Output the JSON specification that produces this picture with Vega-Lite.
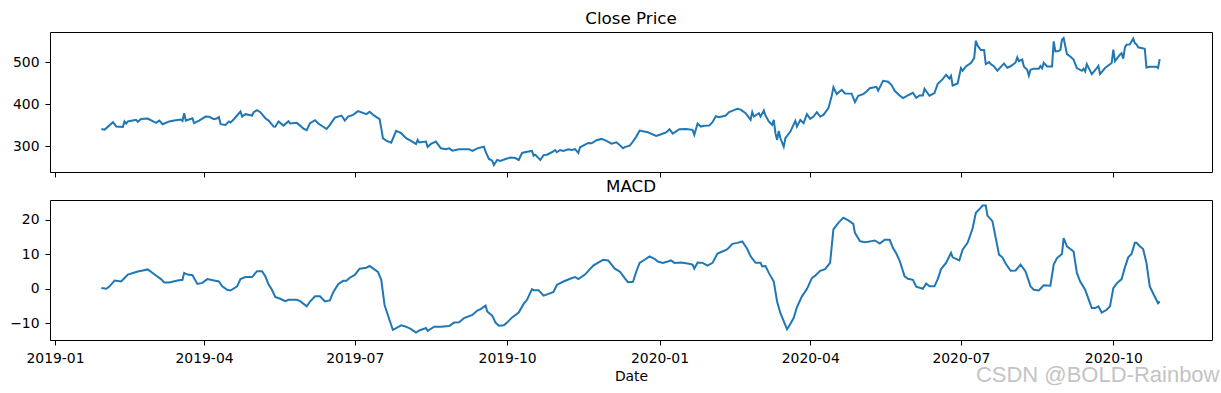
{
  "$schema": "https://vega.github.io/schema/vega-lite/v6.json",
  "background": "white",
  "padding": {"left": 9, "top": 10, "right": 2, "bottom": 5},
  "config": {
    "font": "DejaVu Sans",
    "view": {"stroke": "black", "strokeWidth": 1},
    "axis": {"domain": false, "grid": false, "tickColor": "black", "tickSize": 5, "tickWidth": 1, "labelColor": "black", "labelFont": "DejaVu Sans", "labelFontSize": 13.9, "labelPadding": 6, "titleFont": "DejaVu Sans", "titleFontSize": 13.9, "titleFontWeight": "normal", "titleColor": "black"},
    "title": {"font": "DejaVu Sans", "fontSize": 16.7, "fontWeight": "normal", "color": "black"}
  },
  "title": {"text": "CSDN @BOLD-Rainbow", "orient": "bottom", "anchor": "end", "font": "Liberation Sans", "fontSize": 22, "fontWeight": "normal", "color": "#c4c4c4", "offset": -19.5, "dx": 7},
  "datasets": {
    "close": [
      {"Date":"2019-01-29","Close":341},{"Date":"2019-01-31","Close":339.5},{"Date":"2019-02-05","Close":357},{"Date":"2019-02-07","Close":347},{"Date":"2019-02-11","Close":346},{"Date":"2019-02-12","Close":359},{"Date":"2019-02-13","Close":354},{"Date":"2019-02-14","Close":359},{"Date":"2019-02-19","Close":362.6},{"Date":"2019-02-20","Close":358},{"Date":"2019-02-22","Close":365},{"Date":"2019-02-26","Close":365.7},
      {"Date":"2019-03-03","Close":355.5},{"Date":"2019-03-05","Close":361},{"Date":"2019-03-07","Close":352.4},{"Date":"2019-03-11","Close":359},{"Date":"2019-03-14","Close":361},{"Date":"2019-03-18","Close":363.4},{"Date":"2019-03-19","Close":360},{"Date":"2019-03-20","Close":378.6},{"Date":"2019-03-21","Close":361},{"Date":"2019-03-25","Close":366.6},{"Date":"2019-03-26","Close":354.8},{"Date":"2019-03-29","Close":361},
      {"Date":"2019-04-02","Close":370.5},{"Date":"2019-04-04","Close":370},{"Date":"2019-04-07","Close":364.2},{"Date":"2019-04-09","Close":366.6},{"Date":"2019-04-10","Close":369},{"Date":"2019-04-11","Close":352.4},{"Date":"2019-04-14","Close":350.7},{"Date":"2019-04-16","Close":359},{"Date":"2019-04-17","Close":356.6},{"Date":"2019-04-19","Close":364.2},{"Date":"2019-04-23","Close":382.4},{"Date":"2019-04-24","Close":370.5},{"Date":"2019-04-26","Close":376.2},{"Date":"2019-04-30","Close":372.9},
      {"Date":"2019-05-01","Close":381},{"Date":"2019-05-03","Close":385.7},{"Date":"2019-05-05","Close":381},{"Date":"2019-05-08","Close":366.6},{"Date":"2019-05-10","Close":361},{"Date":"2019-05-13","Close":346.7},{"Date":"2019-05-14","Close":346.4},{"Date":"2019-05-16","Close":359},{"Date":"2019-05-19","Close":349},{"Date":"2019-05-22","Close":359.5},{"Date":"2019-05-23","Close":354},{"Date":"2019-05-27","Close":355.5},{"Date":"2019-05-29","Close":349},{"Date":"2019-05-31","Close":342},
      {"Date":"2019-06-02","Close":338},{"Date":"2019-06-04","Close":354.8},{"Date":"2019-06-07","Close":362},{"Date":"2019-06-09","Close":354},{"Date":"2019-06-14","Close":341},{"Date":"2019-06-16","Close":350.7},{"Date":"2019-06-19","Close":368},{"Date":"2019-06-23","Close":372.9},{"Date":"2019-06-25","Close":361},{"Date":"2019-06-27","Close":370.5},{"Date":"2019-06-30","Close":374.5},
      {"Date":"2019-07-03","Close":383.3},{"Date":"2019-07-08","Close":376.2},{"Date":"2019-07-10","Close":381.7},{"Date":"2019-07-13","Close":372},{"Date":"2019-07-16","Close":364.2},{"Date":"2019-07-17","Close":342.9},{"Date":"2019-07-18","Close":319},{"Date":"2019-07-20","Close":313.3},{"Date":"2019-07-23","Close":308.6},{"Date":"2019-07-26","Close":336.4},{"Date":"2019-07-29","Close":331},
      {"Date":"2019-08-01","Close":319},{"Date":"2019-08-04","Close":312.6},{"Date":"2019-08-07","Close":305.5},{"Date":"2019-08-08","Close":315},{"Date":"2019-08-09","Close":309},{"Date":"2019-08-13","Close":311},{"Date":"2019-08-14","Close":298.3},{"Date":"2019-08-16","Close":305.5},{"Date":"2019-08-19","Close":311},{"Date":"2019-08-22","Close":295.2},{"Date":"2019-08-25","Close":292.9},{"Date":"2019-08-27","Close":295},{"Date":"2019-08-29","Close":289.6},
      {"Date":"2019-09-02","Close":292.9},{"Date":"2019-09-05","Close":293},{"Date":"2019-09-08","Close":293},{"Date":"2019-09-10","Close":288.8},{"Date":"2019-09-13","Close":295},{"Date":"2019-09-17","Close":299},{"Date":"2019-09-18","Close":287},{"Date":"2019-09-20","Close":269.8},{"Date":"2019-09-22","Close":265.7},{"Date":"2019-09-23","Close":255.5},{"Date":"2019-09-25","Close":267.4},{"Date":"2019-09-27","Close":265},{"Date":"2019-09-30","Close":269.8},
      {"Date":"2019-10-03","Close":273},{"Date":"2019-10-06","Close":272},{"Date":"2019-10-08","Close":267.4},{"Date":"2019-10-10","Close":284},{"Date":"2019-10-13","Close":287},{"Date":"2019-10-16","Close":288.8},{"Date":"2019-10-17","Close":277.6},{"Date":"2019-10-18","Close":280},{"Date":"2019-10-21","Close":267.4},{"Date":"2019-10-23","Close":279},{"Date":"2019-10-25","Close":280},{"Date":"2019-10-28","Close":285.7},{"Date":"2019-10-30","Close":291},{"Date":"2019-10-31","Close":285.7},
      {"Date":"2019-11-02","Close":291},{"Date":"2019-11-04","Close":288.8},{"Date":"2019-11-07","Close":292.9},{"Date":"2019-11-09","Close":291},{"Date":"2019-11-11","Close":293},{"Date":"2019-11-13","Close":284},{"Date":"2019-11-14","Close":297.6},{"Date":"2019-11-19","Close":307.9},{"Date":"2019-11-21","Close":307},{"Date":"2019-11-24","Close":314.3},{"Date":"2019-11-27","Close":317.4},{"Date":"2019-11-30","Close":312.6},
      {"Date":"2019-12-03","Close":306.2},{"Date":"2019-12-06","Close":309.5},{"Date":"2019-12-07","Close":306.2},{"Date":"2019-12-10","Close":295.2},{"Date":"2019-12-11","Close":298},{"Date":"2019-12-14","Close":301.4},{"Date":"2019-12-15","Close":306},{"Date":"2019-12-18","Close":322.9},{"Date":"2019-12-20","Close":337.1},{"Date":"2019-12-25","Close":333.3},{"Date":"2019-12-30","Close":324.5},
      {"Date":"2020-01-02","Close":328.6},{"Date":"2020-01-05","Close":333},{"Date":"2020-01-07","Close":340.5},{"Date":"2020-01-09","Close":330},{"Date":"2020-01-13","Close":340.5},{"Date":"2020-01-17","Close":341.2},{"Date":"2020-01-21","Close":339},{"Date":"2020-01-22","Close":327},{"Date":"2020-01-24","Close":354},{"Date":"2020-01-26","Close":346.7},{"Date":"2020-01-28","Close":348.6},{"Date":"2020-01-31","Close":349},
      {"Date":"2020-02-02","Close":357.1},{"Date":"2020-02-04","Close":371.4},{"Date":"2020-02-06","Close":369},{"Date":"2020-02-10","Close":373},{"Date":"2020-02-12","Close":381},{"Date":"2020-02-15","Close":385.7},{"Date":"2020-02-17","Close":388.8},{"Date":"2020-02-19","Close":387},{"Date":"2020-02-22","Close":378.6},{"Date":"2020-02-25","Close":362.6},{"Date":"2020-02-26","Close":381},{"Date":"2020-02-27","Close":370.5},
      {"Date":"2020-03-01","Close":378.6},{"Date":"2020-03-02","Close":370.5},{"Date":"2020-03-04","Close":384.8},{"Date":"2020-03-05","Close":373},{"Date":"2020-03-07","Close":359},{"Date":"2020-03-09","Close":350.7},{"Date":"2020-03-10","Close":362.6},{"Date":"2020-03-11","Close":331},{"Date":"2020-03-12","Close":315},{"Date":"2020-03-13","Close":336.4},{"Date":"2020-03-14","Close":319},{"Date":"2020-03-16","Close":299},{"Date":"2020-03-17","Close":319},{"Date":"2020-03-20","Close":334.8},{"Date":"2020-03-23","Close":360.2},{"Date":"2020-03-24","Close":346.7},{"Date":"2020-03-26","Close":362.6},{"Date":"2020-03-28","Close":354.8},{"Date":"2020-03-30","Close":376.2},
      {"Date":"2020-04-01","Close":365},{"Date":"2020-04-03","Close":370.5},{"Date":"2020-04-05","Close":381},{"Date":"2020-04-07","Close":370.5},{"Date":"2020-04-09","Close":374.5},{"Date":"2020-04-12","Close":390.5},{"Date":"2020-04-14","Close":419.8},{"Date":"2020-04-15","Close":440.5},{"Date":"2020-04-17","Close":423.8},{"Date":"2020-04-20","Close":434},{"Date":"2020-04-22","Close":425.2},{"Date":"2020-04-26","Close":425},{"Date":"2020-04-28","Close":404.8},{"Date":"2020-04-30","Close":419.8},
      {"Date":"2020-05-03","Close":423.8},{"Date":"2020-05-05","Close":430},{"Date":"2020-05-07","Close":438},{"Date":"2020-05-11","Close":441.2},{"Date":"2020-05-12","Close":432},{"Date":"2020-05-15","Close":455.5},{"Date":"2020-05-18","Close":453.3},{"Date":"2020-05-20","Close":446},{"Date":"2020-05-22","Close":431.7},{"Date":"2020-05-25","Close":420.5},{"Date":"2020-05-27","Close":414.3},{"Date":"2020-05-30","Close":421},
      {"Date":"2020-06-02","Close":427},{"Date":"2020-06-04","Close":415},{"Date":"2020-06-06","Close":420.5},{"Date":"2020-06-08","Close":420.5},{"Date":"2020-06-09","Close":436.4},{"Date":"2020-06-12","Close":420},{"Date":"2020-06-15","Close":426.2},{"Date":"2020-06-17","Close":448.3},{"Date":"2020-06-20","Close":459.5},{"Date":"2020-06-22","Close":469.8},{"Date":"2020-06-24","Close":461},{"Date":"2020-06-25","Close":467.4},{"Date":"2020-06-26","Close":444.3},{"Date":"2020-06-29","Close":449},
      {"Date":"2020-07-01","Close":485.7},{"Date":"2020-07-02","Close":479.3},{"Date":"2020-07-04","Close":489.6},{"Date":"2020-07-07","Close":497.6},{"Date":"2020-07-09","Close":509.5},{"Date":"2020-07-10","Close":550.7},{"Date":"2020-07-11","Close":539.5},{"Date":"2020-07-13","Close":528.6},{"Date":"2020-07-15","Close":528.6},{"Date":"2020-07-16","Close":495.2},{"Date":"2020-07-18","Close":500},{"Date":"2020-07-19","Close":495.2},{"Date":"2020-07-21","Close":489.6},{"Date":"2020-07-23","Close":479.3},{"Date":"2020-07-24","Close":484},{"Date":"2020-07-27","Close":496.7},{"Date":"2020-07-29","Close":486.5},{"Date":"2020-07-31","Close":490},
      {"Date":"2020-08-03","Close":499},{"Date":"2020-08-04","Close":511},{"Date":"2020-08-05","Close":502},{"Date":"2020-08-07","Close":506},{"Date":"2020-08-08","Close":489.6},{"Date":"2020-08-10","Close":481.7},{"Date":"2020-08-11","Close":468},{"Date":"2020-08-12","Close":481.7},{"Date":"2020-08-14","Close":484.3},{"Date":"2020-08-17","Close":484.3},{"Date":"2020-08-18","Close":490.5},{"Date":"2020-08-19","Close":485},{"Date":"2020-08-20","Close":498.3},{"Date":"2020-08-22","Close":489.6},{"Date":"2020-08-25","Close":489.6},{"Date":"2020-08-26","Close":549},{"Date":"2020-08-27","Close":525.2},{"Date":"2020-08-29","Close":526},{"Date":"2020-08-30","Close":528.6},{"Date":"2020-08-31","Close":553},
      {"Date":"2020-09-01","Close":557},{"Date":"2020-09-03","Close":519},{"Date":"2020-09-05","Close":513.3},{"Date":"2020-09-07","Close":506},{"Date":"2020-09-09","Close":485.7},{"Date":"2020-09-12","Close":479.3},{"Date":"2020-09-13","Close":484},{"Date":"2020-09-14","Close":477.6},{"Date":"2020-09-15","Close":495},{"Date":"2020-09-18","Close":471.4},{"Date":"2020-09-21","Close":485.7},{"Date":"2020-09-22","Close":491},{"Date":"2020-09-23","Close":471.4},{"Date":"2020-09-26","Close":485.7},{"Date":"2020-09-30","Close":497.6},
      {"Date":"2020-10-01","Close":529.3},{"Date":"2020-10-02","Close":502},{"Date":"2020-10-05","Close":517.4},{"Date":"2020-10-06","Close":521},{"Date":"2020-10-07","Close":508},{"Date":"2020-10-08","Close":534.8},{"Date":"2020-10-09","Close":541.2},{"Date":"2020-10-11","Close":542},{"Date":"2020-10-13","Close":555.5},{"Date":"2020-10-14","Close":545},{"Date":"2020-10-15","Close":542},{"Date":"2020-10-16","Close":535},{"Date":"2020-10-20","Close":531.7},{"Date":"2020-10-21","Close":487},{"Date":"2020-10-23","Close":489},{"Date":"2020-10-27","Close":489},{"Date":"2020-10-28","Close":486},{"Date":"2020-10-29","Close":507}
    ],
    "macd": [
      {"Date":"2019-01-29","MACD":0.2},{"Date":"2019-02-01","MACD":0},{"Date":"2019-02-03","MACD":0.7},{"Date":"2019-02-06","MACD":2.4},{"Date":"2019-02-10","MACD":2.1},{"Date":"2019-02-12","MACD":3.1},{"Date":"2019-02-14","MACD":4.1},{"Date":"2019-02-20","MACD":5.0},{"Date":"2019-02-23","MACD":5.3},{"Date":"2019-02-26","MACD":5.6},
      {"Date":"2019-03-02","MACD":4.2},{"Date":"2019-03-06","MACD":2.8},{"Date":"2019-03-08","MACD":1.8},{"Date":"2019-03-11","MACD":1.8},{"Date":"2019-03-16","MACD":2.4},{"Date":"2019-03-19","MACD":2.6},{"Date":"2019-03-20","MACD":4.6},{"Date":"2019-03-22","MACD":4.1},{"Date":"2019-03-25","MACD":3.9},{"Date":"2019-03-28","MACD":1.4},{"Date":"2019-03-31","MACD":1.7},
      {"Date":"2019-04-03","MACD":2.8},{"Date":"2019-04-07","MACD":2.4},{"Date":"2019-04-10","MACD":2.1},{"Date":"2019-04-12","MACD":0.7},{"Date":"2019-04-15","MACD":-0.3},{"Date":"2019-04-17","MACD":-0.5},{"Date":"2019-04-21","MACD":0.7},{"Date":"2019-04-23","MACD":2.8},{"Date":"2019-04-26","MACD":3.4},{"Date":"2019-04-30","MACD":3.4},
      {"Date":"2019-05-03","MACD":5.1},{"Date":"2019-05-06","MACD":5.1},{"Date":"2019-05-08","MACD":3.6},{"Date":"2019-05-10","MACD":1.2},{"Date":"2019-05-12","MACD":-0.3},{"Date":"2019-05-14","MACD":-2.4},{"Date":"2019-05-17","MACD":-2.9},{"Date":"2019-05-20","MACD":-3.6},{"Date":"2019-05-22","MACD":-3.2},{"Date":"2019-05-27","MACD":-3.2},{"Date":"2019-05-29","MACD":-3.6},
      {"Date":"2019-06-02","MACD":-5.1},{"Date":"2019-06-04","MACD":-3.7},{"Date":"2019-06-07","MACD":-2.2},{"Date":"2019-06-10","MACD":-2.2},{"Date":"2019-06-13","MACD":-3.7},{"Date":"2019-06-16","MACD":-3.4},{"Date":"2019-06-18","MACD":-1.0},{"Date":"2019-06-21","MACD":1.3},{"Date":"2019-06-24","MACD":2.3},{"Date":"2019-06-26","MACD":2.3},{"Date":"2019-06-28","MACD":3.2},
      {"Date":"2019-07-01","MACD":4.0},{"Date":"2019-07-04","MACD":5.8},{"Date":"2019-07-08","MACD":6.1},{"Date":"2019-07-10","MACD":6.6},{"Date":"2019-07-12","MACD":5.9},{"Date":"2019-07-15","MACD":4.9},{"Date":"2019-07-17","MACD":2.6},{"Date":"2019-07-19","MACD":-4.7},{"Date":"2019-07-21","MACD":-7.6},{"Date":"2019-07-23","MACD":-10.5},{"Date":"2019-07-24","MACD":-11.9},{"Date":"2019-07-26","MACD":-11.4},{"Date":"2019-07-29","MACD":-10.6},
      {"Date":"2019-08-01","MACD":-11.0},{"Date":"2019-08-04","MACD":-11.7},{"Date":"2019-08-07","MACD":-12.7},{"Date":"2019-08-09","MACD":-12.1},{"Date":"2019-08-13","MACD":-11.4},{"Date":"2019-08-14","MACD":-12.2},{"Date":"2019-08-18","MACD":-11.0},{"Date":"2019-08-22","MACD":-11.0},{"Date":"2019-08-27","MACD":-10.8},{"Date":"2019-08-30","MACD":-9.8},
      {"Date":"2019-09-02","MACD":-9.7},{"Date":"2019-09-05","MACD":-8.5},{"Date":"2019-09-10","MACD":-7.6},{"Date":"2019-09-13","MACD":-6.3},{"Date":"2019-09-15","MACD":-5.9},{"Date":"2019-09-18","MACD":-4.9},{"Date":"2019-09-19","MACD":-6.6},{"Date":"2019-09-22","MACD":-7.8},{"Date":"2019-09-24","MACD":-9.8},{"Date":"2019-09-26","MACD":-10.7},{"Date":"2019-09-29","MACD":-10.6},
      {"Date":"2019-10-01","MACD":-9.8},{"Date":"2019-10-04","MACD":-8.3},{"Date":"2019-10-08","MACD":-6.9},{"Date":"2019-10-11","MACD":-4.4},{"Date":"2019-10-13","MACD":-3.2},{"Date":"2019-10-16","MACD":-0.1},{"Date":"2019-10-17","MACD":-0.4},{"Date":"2019-10-20","MACD":-0.4},{"Date":"2019-10-23","MACD":-2.0},{"Date":"2019-10-26","MACD":-1.5},{"Date":"2019-10-29","MACD":-0.9},{"Date":"2019-10-31","MACD":1.1},
      {"Date":"2019-11-04","MACD":2.1},{"Date":"2019-11-08","MACD":2.9},{"Date":"2019-11-11","MACD":3.4},{"Date":"2019-11-13","MACD":2.8},{"Date":"2019-11-17","MACD":4.1},{"Date":"2019-11-22","MACD":6.7},{"Date":"2019-11-25","MACD":7.6},{"Date":"2019-11-28","MACD":8.4},
      {"Date":"2019-12-01","MACD":8.2},{"Date":"2019-12-05","MACD":5.8},{"Date":"2019-12-08","MACD":5.0},{"Date":"2019-12-11","MACD":3.1},{"Date":"2019-12-13","MACD":1.9},{"Date":"2019-12-16","MACD":2.0},{"Date":"2019-12-18","MACD":5.0},{"Date":"2019-12-20","MACD":7.5},{"Date":"2019-12-23","MACD":8.4},{"Date":"2019-12-26","MACD":9.4},{"Date":"2019-12-29","MACD":8.7},{"Date":"2019-12-31","MACD":7.9},
      {"Date":"2020-01-03","MACD":7.5},{"Date":"2020-01-06","MACD":7.9},{"Date":"2020-01-08","MACD":8.2},{"Date":"2020-01-10","MACD":7.5},{"Date":"2020-01-14","MACD":7.6},{"Date":"2020-01-18","MACD":7.3},{"Date":"2020-01-21","MACD":7.0},{"Date":"2020-01-22","MACD":5.8},{"Date":"2020-01-24","MACD":7.6},{"Date":"2020-01-27","MACD":7.5},{"Date":"2020-01-30","MACD":6.7},
      {"Date":"2020-02-02","MACD":7.5},{"Date":"2020-02-05","MACD":10.2},{"Date":"2020-02-09","MACD":11.0},{"Date":"2020-02-11","MACD":11.5},{"Date":"2020-02-14","MACD":13.0},{"Date":"2020-02-17","MACD":13.3},{"Date":"2020-02-20","MACD":13.7},{"Date":"2020-02-23","MACD":11.5},{"Date":"2020-02-25","MACD":9.4},{"Date":"2020-02-28","MACD":7.5},
      {"Date":"2020-03-02","MACD":7.5},{"Date":"2020-03-03","MACD":6.5},{"Date":"2020-03-05","MACD":6.6},{"Date":"2020-03-07","MACD":4.6},{"Date":"2020-03-10","MACD":2.1},{"Date":"2020-03-12","MACD":-3.7},{"Date":"2020-03-14","MACD":-7.1},{"Date":"2020-03-18","MACD":-11.7},{"Date":"2020-03-19","MACD":-11.0},{"Date":"2020-03-22","MACD":-8.5},{"Date":"2020-03-24","MACD":-5.3},{"Date":"2020-03-27","MACD":-2.2},{"Date":"2020-03-30","MACD":-0.1},
      {"Date":"2020-04-02","MACD":3.1},{"Date":"2020-04-04","MACD":3.8},{"Date":"2020-04-07","MACD":5.2},{"Date":"2020-04-10","MACD":5.7},{"Date":"2020-04-13","MACD":7.5},{"Date":"2020-04-15","MACD":17.2},{"Date":"2020-04-18","MACD":19.1},{"Date":"2020-04-21","MACD":20.6},{"Date":"2020-04-24","MACD":19.8},{"Date":"2020-04-27","MACD":18.8},{"Date":"2020-04-28","MACD":16.2},
      {"Date":"2020-05-01","MACD":13.8},{"Date":"2020-05-04","MACD":13.5},{"Date":"2020-05-06","MACD":13.6},{"Date":"2020-05-08","MACD":13.8},{"Date":"2020-05-10","MACD":14.0},{"Date":"2020-05-13","MACD":13.1},{"Date":"2020-05-16","MACD":14.2},{"Date":"2020-05-19","MACD":14.2},{"Date":"2020-05-21","MACD":11.8},{"Date":"2020-05-23","MACD":10.2},{"Date":"2020-05-25","MACD":8.1},{"Date":"2020-05-28","MACD":3.6},{"Date":"2020-05-30","MACD":2.9},
      {"Date":"2020-06-02","MACD":2.6},{"Date":"2020-06-04","MACD":0.6},{"Date":"2020-06-08","MACD":0},{"Date":"2020-06-10","MACD":1.5},{"Date":"2020-06-12","MACD":0.7},{"Date":"2020-06-15","MACD":0.7},{"Date":"2020-06-17","MACD":2.8},{"Date":"2020-06-19","MACD":5.7},{"Date":"2020-06-22","MACD":7.5},{"Date":"2020-06-25","MACD":10.4},{"Date":"2020-06-26","MACD":9.1},{"Date":"2020-06-30","MACD":8.2},
      {"Date":"2020-07-02","MACD":11.3},{"Date":"2020-07-05","MACD":13.3},{"Date":"2020-07-08","MACD":17.4},{"Date":"2020-07-10","MACD":22.0},{"Date":"2020-07-13","MACD":23.5},{"Date":"2020-07-14","MACD":24.1},{"Date":"2020-07-16","MACD":24.1},{"Date":"2020-07-17","MACD":21.2},{"Date":"2020-07-20","MACD":19.6},{"Date":"2020-07-24","MACD":9.9},{"Date":"2020-07-26","MACD":9.1},{"Date":"2020-07-28","MACD":7.3},{"Date":"2020-07-31","MACD":5.2},
      {"Date":"2020-08-03","MACD":5.3},{"Date":"2020-08-06","MACD":7.0},{"Date":"2020-08-09","MACD":5.0},{"Date":"2020-08-12","MACD":0.7},{"Date":"2020-08-14","MACD":-0.3},{"Date":"2020-08-17","MACD":-0.5},{"Date":"2020-08-20","MACD":1.0},{"Date":"2020-08-24","MACD":0.9},{"Date":"2020-08-26","MACD":7.0},{"Date":"2020-08-28","MACD":8.9},{"Date":"2020-08-31","MACD":10.1},
      {"Date":"2020-09-01","MACD":14.7},{"Date":"2020-09-03","MACD":12.3},{"Date":"2020-09-07","MACD":10.8},{"Date":"2020-09-09","MACD":4.6},{"Date":"2020-09-11","MACD":2.1},{"Date":"2020-09-14","MACD":-0.3},{"Date":"2020-09-18","MACD":-5.6},{"Date":"2020-09-20","MACD":-5.6},{"Date":"2020-09-22","MACD":-5.1},{"Date":"2020-09-24","MACD":-6.9},{"Date":"2020-09-27","MACD":-6.1},{"Date":"2020-09-29","MACD":-5.1},
      {"Date":"2020-10-01","MACD":0.2},{"Date":"2020-10-03","MACD":1.5},{"Date":"2020-10-06","MACD":2.8},{"Date":"2020-10-08","MACD":6.2},{"Date":"2020-10-10","MACD":9.1},{"Date":"2020-10-12","MACD":10.1},{"Date":"2020-10-14","MACD":13.3},{"Date":"2020-10-15","MACD":13.3},{"Date":"2020-10-17","MACD":12.3},{"Date":"2020-10-19","MACD":11.5},{"Date":"2020-10-21","MACD":7.5},{"Date":"2020-10-23","MACD":0.7},{"Date":"2020-10-25","MACD":-1.3},{"Date":"2020-10-28","MACD":-4.2},{"Date":"2020-10-29","MACD":-3.7}
    ]
  },
  "bounds": "flush",
  "spacing": 28,
  "vconcat": [
    {
      "width": 1162,
      "height": 140,
      "title": {"text": "Close Price", "offset": -12.2, "baseline": "bottom"},
      "data": {"name": "close"},
      "mark": {"type": "line", "color": "#1f77b4", "strokeWidth": 2},
      "encoding": {
        "x": {"field": "Date", "type": "temporal",
          "scale": {"type": "utc", "domain": [{"year": 2018, "month": 12, "date": 29, "utc": true}, {"year": 2020, "month": 11, "date": 29, "hours": 14, "utc": true}]},
          "axis": {"title": null, "labels": false, "values": [{"year": 2019, "month": 1, "date": 1, "utc": true}, {"year": 2019, "month": 4, "date": 1, "utc": true}, {"year": 2019, "month": 7, "date": 1, "utc": true}, {"year": 2019, "month": 10, "date": 1, "utc": true}, {"year": 2020, "month": 1, "date": 1, "utc": true}, {"year": 2020, "month": 4, "date": 1, "utc": true}, {"year": 2020, "month": 7, "date": 1, "utc": true}, {"year": 2020, "month": 10, "date": 1, "utc": true}]}},
        "y": {"field": "Close", "type": "quantitative",
          "scale": {"domain": [238.8, 571.4], "nice": false, "zero": false},
          "axis": {"title": null, "values": [300, 400, 500]}}
      }
    },
    {
      "width": 1162,
      "height": 140,
      "title": {"text": "MACD", "offset": -12.2, "baseline": "bottom"},
      "data": {"name": "macd"},
      "mark": {"type": "line", "color": "#1f77b4", "strokeWidth": 2},
      "encoding": {
        "x": {"field": "Date", "type": "temporal",
          "scale": {"type": "utc", "domain": [{"year": 2018, "month": 12, "date": 29, "utc": true}, {"year": 2020, "month": 11, "date": 29, "hours": 14, "utc": true}]},
          "axis": {"title": "Date", "labelExpr": "utcFormat(datum.value, '%Y-%m')", "labelAngle": 0, "titlePadding": 5, "values": [{"year": 2019, "month": 1, "date": 1, "utc": true}, {"year": 2019, "month": 4, "date": 1, "utc": true}, {"year": 2019, "month": 7, "date": 1, "utc": true}, {"year": 2019, "month": 10, "date": 1, "utc": true}, {"year": 2020, "month": 1, "date": 1, "utc": true}, {"year": 2020, "month": 4, "date": 1, "utc": true}, {"year": 2020, "month": 7, "date": 1, "utc": true}, {"year": 2020, "month": 10, "date": 1, "utc": true}]}},
        "y": {"field": "MACD", "type": "quantitative",
          "scale": {"domain": [-14.85, 25.72], "nice": false, "zero": false},
          "axis": {"title": null, "values": [-10, 0, 10, 20]}}
      }
    }
  ]
}
